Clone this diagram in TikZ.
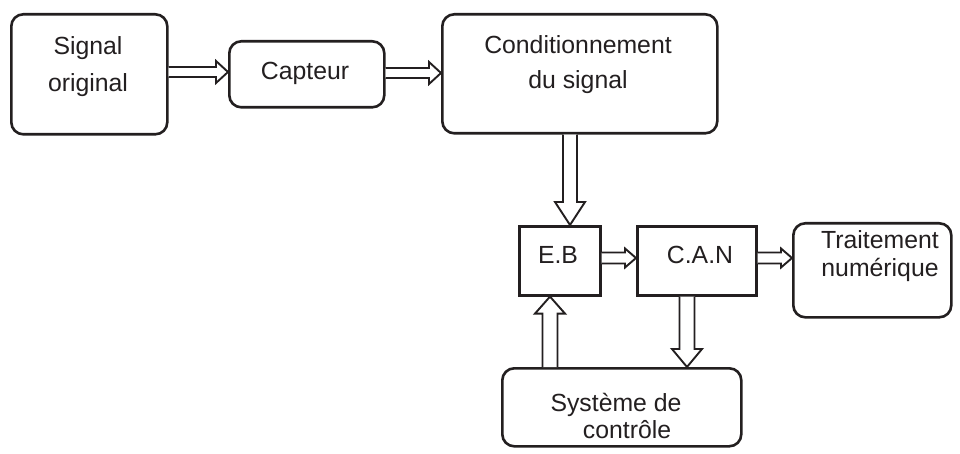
\documentclass[tikz,border=0pt]{standalone}
\usepackage{fontspec}
\setmainfont{Liberation Sans}
\usetikzlibrary{calc}

\definecolor{ink}{HTML}{231F20}

\tikzset{
  blockr/.style={draw=ink, line width=2.6pt, rounded corners=12pt, inner sep=0pt, anchor=north west},
  blocks/.style={draw=ink, line width=2.6pt, inner sep=0pt, anchor=north west},
  lbl/.style={anchor=base, inner sep=0pt, text=ink, font=\fontsize{24.8}{30}\selectfont},
  hollow/.style={draw=ink, line width=1.9pt, line join=miter, fill=white},
}

% horizontal hollow arrow: #1 source, #2 target, #3 y, #4 half shaft, #5 half head, #6 head length
\newcommand\harrow[6]{%
  \draw[hollow] (#1.east |- 0,#3-#4)
    -- ($(#2.west |- 0,#3-#4)+(-#6,0)$)
    -- ($(#2.west |- 0,#3-#5)+(-#6,0)$)
    -- (#2.west |- 0,#3)
    -- ($(#2.west |- 0,#3+#5)+(-#6,0)$)
    -- ($(#2.west |- 0,#3+#4)+(-#6,0)$)
    -- (#1.east |- 0,#3+#4);}

% vertical hollow arrow pointing down: #1 source above, #2 target below, #3 x
\newcommand\darrow[6]{%
  \draw[hollow] (#3-#4,0 |- #1.south)
    -- ($(#3-#4,0 |- #2.north)+(0,-#6)$)
    -- ($(#3-#5,0 |- #2.north)+(0,-#6)$)
    -- (#3,0 |- #2.north)
    -- ($(#3+#5,0 |- #2.north)+(0,-#6)$)
    -- ($(#3+#4,0 |- #2.north)+(0,-#6)$)
    -- (#3+#4,0 |- #1.south);}

% vertical hollow arrow pointing up: #1 source below, #2 target above, #3 x
\newcommand\uarrow[6]{%
  \draw[hollow] (#3-#4,0 |- #1.north)
    -- ($(#3-#4,0 |- #2.south)+(0,#6)$)
    -- ($(#3-#5,0 |- #2.south)+(0,#6)$)
    -- (#3,0 |- #2.south)
    -- ($(#3+#5,0 |- #2.south)+(0,#6)$)
    -- ($(#3+#4,0 |- #2.south)+(0,#6)$)
    -- (#3+#4,0 |- #1.north);}

\begin{document}
\begin{tikzpicture}[x=1pt, y=-1pt]
  \useasboundingbox[fill=white] (0,0) rectangle (960,454);

  % blocks
  \node[blockr, minimum width=156pt, minimum height=120pt] (sig)  at (10,13)  {};
  \node[blockr, minimum width=155pt, minimum height=66pt]  (cap)  at (228,40) {};
  \node[blockr, minimum width=275pt, minimum height=119pt] (cond) at (441,13) {};
  \node[blocks, minimum width=81pt,  minimum height=69pt]  (eb)   at (518,225) {};
  \node[blocks, minimum width=119pt, minimum height=69pt]  (can)  at (636,225) {};
  \node[blockr, minimum width=158pt, minimum height=94pt]  (trt)  at (792,222) {};
  \node[blockr, minimum width=239pt, minimum height=78pt]  (sys)  at (501,367) {};

  % labels
  \node[lbl] (sigA)  at (88,55)   {Signal};
  \node[lbl] (sigB)  at (88,92)   {original};
  \node[lbl] (capA)  at (305,80)  {Capteur};
  \node[lbl] (condA) at (578,54)  {Conditionnement};
  \node[lbl] (condB) at (578,89)  {du signal};
  \node[lbl] (ebA)   at (558,263) {E.B};
  \node[lbl] (canA)  at (700,263) {C.A.N};
  \node[lbl] (trtA)  at (880,248) {Traitement};
  \node[lbl] (trtB)  at (880,276) {numérique};
  \node[lbl] (sysA)  at (616,411) {Système de};
  \node[lbl] (sysB)  at (627,438) {contrôle};

  % connectors
  \harrow{sig}{cap}{72}{5}{11}{12}
  \harrow{cap}{cond}{73}{5}{11}{12}
  \darrow{cond}{eb}{570}{7}{15}{23}
  \harrow{eb}{can}{258}{5.5}{9.5}{11}
  \harrow{can}{trt}{258}{5.5}{9.5}{11}
  \uarrow{sys}{eb}{550}{7.5}{15}{17}
  \darrow{can}{sys}{687}{7.5}{15}{18}
\end{tikzpicture}
\end{document}
